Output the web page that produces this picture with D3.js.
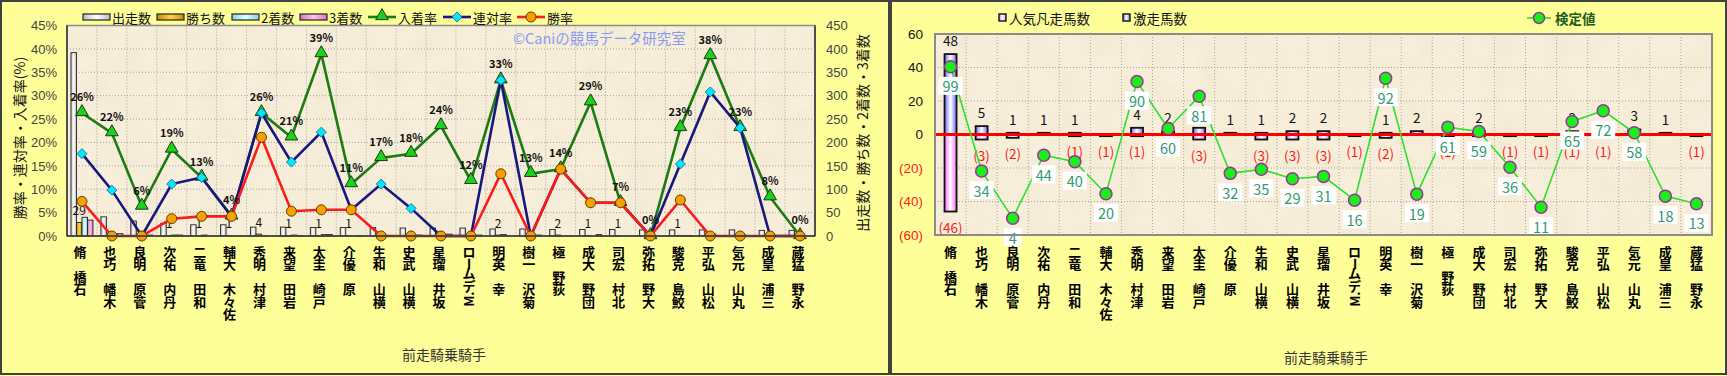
<!DOCTYPE html>
<html>
<head>
<meta charset="utf-8">
<script src="https://cdn.jsdelivr.net/npm/d3@7"></script>
<style>
  body { margin: 0; background: #ffff99; }
  svg { display: block; font-family: "Noto Sans CJK JP", "Noto Sans", sans-serif; }
</style>
</head>
<body>
<div id="root"></div>
<script>
// 騎手
var jockeys = ['石橋　脩', '木幡　巧也', '菅原　明良', '丹内　祐次', '和田　竜二', '佐々木　大輔', '津村　明秀',
  '岩田　望来', '戸崎　圭太', '原　優介', '横山　和生', '横山　武史', '坂井　瑠星', 'M. デムーロ', '幸　英明',
  '菊沢　一樹', '荻野　極', '団野　大成', '北村　宏司', '大野　拓弥', '鮫島　克駿', '松山　弘平', '丸山　元気',
  '三浦　皇成', '永野　猛蔵'];

// 左: 件数
var starts  = [392, 41, 32, 27, 24, 24, 19, 19, 18, 18, 18, 17, 17, 17, 15, 15, 14, 14, 14, 13, 13, 13, 13, 12, 12];
var wins    = [29, 0, 0, 1, 1, 1, 4, 1, 1, 1, 0, 0, 0, 0, 2, 0, 2, 1, 1, 0, 1, 0, 0, 0, 0];
var seconds = [40, 4, 0, 2, 2, 0, 1, 2, 3, 0, 2, 1, 0, 0, 3, 0, 0, 0, 0, 0, 1, 4, 3, 0, 0];
var thirds  = [34, 5, 2, 2, 0, 0, 0, 1, 3, 1, 1, 2, 4, 2, 0, 2, 0, 3, 0, 0, 1, 1, 0, 1, 0];

// 左: 率 (%)
var placeRate = [26.3, 22.0, 6.3, 18.5, 12.5, 4.2, 26.3, 21.1, 38.9, 11.1, 16.7, 17.6, 23.5, 11.8, 33.3,
  13.3, 14.3, 28.6, 7.1, 0, 23.1, 38.5, 23.1, 8.3, 0];
var quinellaRate = [17.6, 9.8, 0, 11.1, 12.5, 4.2, 26.3, 15.8, 22.2, 5.6, 11.1, 5.9, 0, 0, 33.3,
  0, 14.3, 7.1, 7.1, 0, 15.4, 30.8, 23.1, 0, 0];
var winRate = [7.4, 0, 0, 3.7, 4.2, 4.2, 21.1, 5.3, 5.6, 5.6, 0, 0, 0, 0, 13.3,
  0, 14.3, 7.1, 7.1, 0, 7.7, 0, 0, 0, 0];
var placeLabels = ['26%', '22%', '6%', '19%', '13%', '4%', '26%', '21%', '39%', '11%', '17%', '18%', '24%', '12%', '33%',
  '13%', '14%', '29%', '7%', '0%', '23%', '38%', '23%', '8%', '0%'];

// 右: 激走 / 人気凡走 / 検定値
var gekisou = [48, 5, 1, 1, 1, 0, 4, 2, 4, 1, 1, 2, 2, 0, 1, 2, 0, 2, 0, 0, 2, 0, 3, 1, 0];
var bonsou  = [46, 3, 2, 0, 1, 1, 1, 0, 3, 0, 3, 3, 3, 1, 2, 0, 1, 1, 1, 1, 1, 1, 0, 0, 1];
var kenteiLabel = [99, 34, 4, 44, 40, 20, 90, 60, 81, 32, 35, 29, 31, 16, 92, 19, 61, 59, 36, 11, 65, 72, 58, 18, 13];
var kenteiPos = [40.4, -21.8, -50, -12.4, -16.2, -35.4, 31.6, 3.6, 22.8, -23.2, -20.8, -26.4, -25, -39.2, 33.6,
  -35.6, 4.4, 1.8, -19.6, -43.4, 7.8, 14.2, 1.0, -36.8, -41.4];

var leftTicks = d3.range(0, 50, 5);
var countTicks = d3.range(0, 500, 50);
var rightTicks = [60, 40, 20, 0, -20, -40, -60];

var W = 1727, H = 376;
var svg = d3.select('#root').append('svg').attr('width', W).attr('height', H);
var defs = svg.append('defs');

function hGrad(id, edge, mid) {
  var g = defs.append('linearGradient').attr('id', id).attr('x1', 0).attr('x2', 1).attr('y1', 0).attr('y2', 0);
  g.append('stop').attr('offset', '0%').attr('stop-color', edge);
  g.append('stop').attr('offset', '50%').attr('stop-color', mid);
  g.append('stop').attr('offset', '100%').attr('stop-color', edge);
}
hGrad('gStarts', '#bdbdbd', '#ffffff');
hGrad('gWins', '#c88a00', '#ffd24a');
hGrad('gSec', '#86d2e6', '#e6ffff');
hGrad('gThird', '#d874b8', '#ffc6ea');
hGrad('gBlue', '#6f6fff', '#ffffff');
hGrad('gPink', '#ff70ff', '#ffffff');

var tex = defs.append('filter').attr('id', 'paper').attr('x', 0).attr('y', 0).attr('width', 1).attr('height', 1);
tex.append('feTurbulence').attr('type', 'fractalNoise').attr('baseFrequency', 0.035).attr('numOctaves', 3).attr('seed', 4);
tex.append('feColorMatrix').attr('type', 'matrix')
  .attr('values', '0 0 0 0 0.72  0 0 0 0 0.62  0 0 0 0 0.42  0 0 0 0.55 -0.18');

// panels
svg.append('rect').attr('x', 1).attr('y', 1).attr('width', 888).attr('height', 373)
  .attr('fill', '#ffff99').attr('stroke', '#404040').attr('stroke-width', 2);
svg.append('rect').attr('x', 891).attr('y', 1).attr('width', 835).attr('height', 373)
  .attr('fill', '#ffff99').attr('stroke', '#404040').attr('stroke-width', 2);

function plotBg(x0, y0, x1, y1) {
  svg.append('rect').attr('x', x0).attr('y', y0).attr('width', x1 - x0).attr('height', y1 - y0).attr('fill', '#f7efdb');
  svg.append('rect').attr('x', x0).attr('y', y0).attr('width', x1 - x0).attr('height', y1 - y0)
    .attr('filter', 'url(#paper)').attr('opacity', 0.5);
}

// 下から上へ積む縦書きラベル(漢字は正立、英字は回転)
function vLabel(sel, text, x, yTop) {
  var chars = Array.from(text).reverse();
  var y = yTop;
  var t = sel.append('text').attr('text-anchor', 'middle');
  var run = '', runTop = 0;
  function flush() {
    if (!run) return;
    sel.append('text').attr('transform', 'translate(' + x + ',' + runTop + ') rotate(-90)')
      .attr('text-anchor', 'end').attr('dominant-baseline', 'central')
      .text(Array.from(run).reverse().join('').trim());
    run = '';
  }
  chars.forEach(function (c) {
    var cjk = /[\u3000-\u30fb\u3400-\u9fff]/.test(c);
    if (cjk) {
      flush();
      if (c !== '\u3000') {
        t.append('tspan').attr('x', x).attr('y', y + 6.25).attr('dominant-baseline', 'central').text(c);
      }
      y += 12.5;
    } else {
      if (!run) runTop = y;
      run += c;
      y += (c === ' ' || c === '.') ? 4 : 9;
    }
  });
  flush();
}

// ================= 左のグラフ =================
var L = { x0: 67, x1: 815, y0: 25.5, y1: 236 };
plotBg(L.x0, L.y0, L.x1, L.y1);

var xL = d3.scaleBand().domain(d3.range(jockeys.length)).range([L.x0, L.x1]);
var yPct = d3.scaleLinear().domain([0, 45]).range([L.y1, L.y0]);
var yCnt = d3.scaleLinear().domain([0, 450]).range([L.y1, L.y0]);
var keys = ['starts', 'wins', 'seconds', 'thirds'];
var x1 = d3.scaleBand().domain(keys).range([-11, 11]);
var fills = { starts: 'url(#gStarts)', wins: 'url(#gWins)', seconds: 'url(#gSec)', thirds: 'url(#gThird)' };
var series = { starts: starts, wins: wins, seconds: seconds, thirds: thirds };

var gridL = svg.append('g').attr('stroke', '#a8a29a').attr('stroke-dasharray', '1,2').attr('stroke-width', 1);
gridL.selectAll('.h').data(leftTicks.slice(1)).enter().append('line')
  .attr('x1', L.x0).attr('x2', L.x1).attr('y1', function (d) { return yPct(d); }).attr('y2', function (d) { return yPct(d); });
gridL.selectAll('.v').data(d3.range(1, jockeys.length)).enter().append('line')
  .attr('y1', L.y0).attr('y2', L.y1).attr('x1', function (d) { return xL(d); }).attr('x2', function (d) { return xL(d); });

var cx = function (i) { return xL(i) + xL.bandwidth() / 2; };

keys.forEach(function (k) {
  svg.append('g').selectAll('rect').data(series[k]).enter().append('rect')
    .attr('x', function (d, i) { return cx(i) + x1(k); })
    .attr('width', x1.bandwidth())
    .attr('y', function (d) { return yCnt(d); })
    .attr('height', function (d) { return L.y1 - yCnt(d); })
    .attr('fill', fills[k]).attr('stroke', '#222').attr('stroke-width', 0.9);
});

// 勝ち数ラベル
svg.append('g').selectAll('text').data(wins.map(function (d, i) { return { v: d, i: i }; }).filter(function (d) { return d.v > 0; }))
  .enter().append('text')
  .attr('x', function (d) { return cx(d.i) + x1('wins') + x1.bandwidth() / 2; })
  .attr('y', function (d) { return yCnt(d.v) - 13; })
  .attr('text-anchor', 'middle').attr('dominant-baseline', 'central')
  .attr('font-size', 12).attr('fill', '#111').text(function (d) { return d.v; });

function drawLine(vals, color, marker) {
  var line = d3.line().x(function (d, i) { return cx(i); }).y(function (d) { return yPct(d); });
  svg.append('path').datum(vals).attr('d', line).attr('fill', 'none').attr('stroke', color).attr('stroke-width', 2.6);
  var g = svg.append('g');
  vals.forEach(function (v, i) { marker(g, cx(i), yPct(v)); });
}
function tri(g, x, y) {
  g.append('path').attr('d', d3.symbol(d3.symbolTriangle, 70)()).attr('transform', 'translate(' + x + ',' + (y - 1) + ')')
    .attr('fill', '#19d219').attr('stroke', '#1a3a1a').attr('stroke-width', 1);
}
function dia(g, x, y) {
  g.append('path').attr('d', 'M0,-5L5,0L0,5L-5,0Z').attr('transform', 'translate(' + x + ',' + y + ')')
    .attr('fill', '#00e8ff').attr('stroke', '#1c5a7a').attr('stroke-width', 0.8);
}
function circ(g, x, y) {
  g.append('circle').attr('cx', x).attr('cy', y).attr('r', 5)
    .attr('fill', '#f4a000').attr('stroke', '#6a3a00').attr('stroke-width', 1);
}
drawLine(placeRate, '#1b7a12', tri);
drawLine(quinellaRate, '#17177f', dia);
drawLine(winRate, '#ff1a1a', circ);

svg.append('g').selectAll('text').data(placeLabels).enter().append('text')
  .attr('x', function (d, i) { return cx(i); })
  .attr('y', function (d, i) { return yPct(placeRate[i]) - 17; })
  .attr('text-anchor', 'middle').attr('dominant-baseline', 'central')
  .attr('font-size', 11).attr('font-weight', 'bold').attr('fill', '#111').text(function (d) { return d; });

svg.append('rect').attr('x', L.x0).attr('y', L.y0).attr('width', L.x1 - L.x0).attr('height', L.y1 - L.y0)
  .attr('fill', 'none').attr('stroke', '#8a8a8a').attr('stroke-width', 1.5);
svg.append('line').attr('x1', L.x0).attr('x2', L.x0).attr('y1', L.y0).attr('y2', L.y1).attr('stroke', '#333').attr('stroke-width', 1.5);
svg.append('line').attr('x1', L.x0).attr('x2', L.x1).attr('y1', L.y1).attr('y2', L.y1).attr('stroke', '#333').attr('stroke-width', 1.5);
svg.append('line').attr('x1', L.x1).attr('x2', L.x1).attr('y1', L.y0).attr('y2', L.y1).attr('stroke', '#333').attr('stroke-width', 1.5);

svg.append('text').attr('x', 513).attr('y', 37).attr('dominant-baseline', 'central')
  .attr('font-size', 14.5).attr('fill', '#8a9af2').text('©Caniの競馬データ研究室');

var axL = svg.append('g').attr('transform', 'translate(' + L.x0 + ',0)')
  .call(d3.axisLeft(yPct).tickValues(leftTicks).tickFormat(function (d) { return d + '%'; }).tickSize(0).tickPadding(10));
axL.select('.domain').remove();
axL.selectAll('text').attr('font-size', 13).attr('fill', '#444').attr('font-family', null);

var axR = svg.append('g').attr('transform', 'translate(' + L.x1 + ',0)')
  .call(d3.axisRight(yCnt).tickValues(countTicks).tickSize(0).tickPadding(11));
axR.select('.domain').remove();
axR.selectAll('text').attr('font-size', 13).attr('fill', '#444').attr('font-family', null);

svg.append('text').attr('transform', 'translate(19,138) rotate(-90)').attr('text-anchor', 'middle')
  .attr('dominant-baseline', 'central').attr('font-size', 14).attr('fill', '#111').text('勝率・連対率・入着率(%)');
svg.append('text').attr('transform', 'translate(862,133) rotate(-90)').attr('text-anchor', 'middle')
  .attr('dominant-baseline', 'central').attr('font-size', 14).attr('fill', '#111').text('出走数・勝ち数・2着数・3着数');

var labL = svg.append('g').attr('font-size', 13).attr('font-weight', 'bold').attr('fill', '#000');
jockeys.forEach(function (n, i) { vLabel(labL, n, cx(i) - 2, 245); });

svg.append('text').attr('x', 444).attr('y', 354).attr('text-anchor', 'middle').attr('dominant-baseline', 'central')
  .attr('font-size', 14).attr('fill', '#333').text('前走騎乗騎手');

// legend (left)
var legL = svg.append('g').attr('font-size', 13).attr('fill', '#111');
var barLeg = [['出走数', 'url(#gStarts)', 83], ['勝ち数', 'url(#gWins)', 157], ['2着数', 'url(#gSec)', 232], ['3着数', 'url(#gThird)', 300]];
barLeg.forEach(function (b) {
  legL.append('rect').attr('x', b[2]).attr('y', 14).attr('width', 27).attr('height', 6)
    .attr('fill', b[1]).attr('stroke', '#222').attr('stroke-width', 1.2);
  legL.append('text').attr('x', b[2] + 29).attr('y', 17).attr('dominant-baseline', 'central').text(b[0]);
});
var lineLeg = [['入着率', '#1b7a12', tri, 368], ['連対率', '#17177f', dia, 443], ['勝率', '#ff1a1a', circ, 517]];
lineLeg.forEach(function (b) {
  legL.append('line').attr('x1', b[3]).attr('x2', b[3] + 28).attr('y1', 17).attr('y2', 17).attr('stroke', b[1]).attr('stroke-width', 2.6);
  b[2](legL, b[3] + 14, 17);
  legL.append('text').attr('x', b[3] + 30).attr('y', 17).attr('dominant-baseline', 'central').text(b[0]);
});

// ================= 右のグラフ =================
var R = { x0: 935, x1: 1712, y0: 34, y1: 235 };
plotBg(R.x0, R.y0, R.x1, R.y1);
var xR = d3.scaleBand().domain(d3.range(jockeys.length)).range([R.x0, R.x1]);
var yR = d3.scaleLinear().domain([-60, 60]).range([R.y1, R.y0]);
var rx = function (i) { return xR(i) + xR.bandwidth() / 2; };

var gridR = svg.append('g').attr('stroke', '#a8a29a').attr('stroke-dasharray', '1,2').attr('stroke-width', 1);
gridR.selectAll('.h').data(rightTicks.slice(1, -1)).enter().append('line')
  .attr('x1', R.x0).attr('x2', R.x1).attr('y1', function (d) { return yR(d); }).attr('y2', function (d) { return yR(d); });
gridR.selectAll('.v').data(d3.range(1, jockeys.length)).enter().append('line')
  .attr('y1', R.y0).attr('y2', R.y1).attr('x1', function (d) { return xR(d); }).attr('x2', function (d) { return xR(d); });

svg.append('g').selectAll('rect').data(bonsou).enter().append('rect')
  .attr('x', function (d, i) { return rx(i) - 6; }).attr('width', 12)
  .attr('y', yR(0)).attr('height', function (d) { return yR(-d) - yR(0); })
  .attr('fill', 'url(#gPink)').attr('stroke', '#111').attr('stroke-width', 1.8);
svg.append('g').selectAll('rect').data(gekisou).enter().append('rect')
  .attr('x', function (d, i) { return rx(i) - 6; }).attr('width', 12)
  .attr('y', function (d) { return yR(d); }).attr('height', function (d) { return yR(0) - yR(d); })
  .attr('fill', 'url(#gBlue)').attr('stroke', '#111').attr('stroke-width', 1.8);

svg.append('line').attr('x1', R.x0).attr('x2', R.x1).attr('y1', yR(0)).attr('y2', yR(0))
  .attr('stroke', '#ff0000').attr('stroke-width', 3);

function nonZero(arr) {
  return arr.map(function (d, i) { return { v: d, i: i }; }).filter(function (d) { return d.v > 0; });
}
svg.append('g').selectAll('text').data(nonZero(gekisou)).enter().append('text')
  .attr('x', function (d) { return rx(d.i); }).attr('y', function (d) { return yR(d.v) - 14; })
  .attr('text-anchor', 'middle').attr('dominant-baseline', 'central').attr('font-size', 13.5).attr('fill', '#111')
  .text(function (d) { return d.v; });
svg.append('g').selectAll('text').data(nonZero(bonsou)).enter().append('text')
  .attr('x', function (d) { return rx(d.i); }).attr('y', function (d) { return yR(-d.v) + 15; })
  .attr('text-anchor', 'middle').attr('dominant-baseline', 'central').attr('font-size', 13.5).attr('fill', '#ff1a1a')
  .text(function (d) { return '(' + d.v + ')'; });

var kLine = d3.line().x(function (d, i) { return rx(i); }).y(function (d) { return yR(d); });
svg.append('path').datum(kenteiPos).attr('d', kLine).attr('fill', 'none').attr('stroke', '#2ee02e').attr('stroke-width', 1.6);

svg.append('g').selectAll('circle').data(kenteiPos).enter().append('circle')
  .attr('cx', function (d, i) { return rx(i); }).attr('cy', function (d) { return yR(d); }).attr('r', 6)
  .attr('fill', '#19f019').attr('stroke', '#993399').attr('stroke-width', 1.5);

var kl = svg.append('g').selectAll('g').data(kenteiLabel).enter().append('g')
  .attr('transform', function (d, i) { return 'translate(' + rx(i) + ',' + (yR(kenteiPos[i]) + 19) + ')'; });
kl.append('rect').attr('x', function (d) { return d < 10 ? -9 : -12; }).attr('y', -9)
  .attr('width', function (d) { return d < 10 ? 18 : 24; }).attr('height', 18).attr('fill', '#ffffff');
kl.append('text').attr('text-anchor', 'middle').attr('dominant-baseline', 'central')
  .attr('font-size', 14.5).attr('fill', '#2f9a72').text(function (d) { return d; });

svg.append('rect').attr('x', R.x0).attr('y', R.y0).attr('width', R.x1 - R.x0).attr('height', R.y1 - R.y0)
  .attr('fill', 'none').attr('stroke', '#8a8a8a').attr('stroke-width', 2);

var axR2 = svg.append('g').attr('transform', 'translate(' + R.x0 + ',0)')
  .call(d3.axisLeft(yR).tickValues(rightTicks).tickSize(0).tickPadding(12)
    .tickFormat(function (d) { return d < 0 ? '(' + (-d) + ')' : d; }));
axR2.select('.domain').remove();
axR2.selectAll('text').attr('font-size', 13.5).attr('font-family', null)
  .attr('fill', function (d) { return d < 0 ? '#ff1a1a' : '#111'; });

var labR = svg.append('g').attr('font-size', 13).attr('font-weight', 'bold').attr('fill', '#000');
jockeys.forEach(function (n, i) { vLabel(labR, n, rx(i), 245); });

svg.append('text').attr('x', 1326).attr('y', 357).attr('text-anchor', 'middle').attr('dominant-baseline', 'central')
  .attr('font-size', 14).attr('fill', '#333').text('前走騎乗騎手');

// legend (right)
var legR = svg.append('g').attr('font-size', 13.5).attr('fill', '#111');
[['人気凡走馬数', 'url(#gPink)', 999], ['激走馬数', 'url(#gBlue)', 1123]].forEach(function (b) {
  legR.append('rect').attr('x', b[2]).attr('y', 14).attr('width', 7).attr('height', 7)
    .attr('fill', b[1]).attr('stroke', '#111').attr('stroke-width', 1.4);
  legR.append('text').attr('x', b[2] + 10).attr('y', 18).attr('dominant-baseline', 'central').text(b[0]);
});
legR.append('line').attr('x1', 1527).attr('x2', 1551).attr('y1', 18).attr('y2', 18).attr('stroke', '#2ee02e').attr('stroke-width', 1.6);
legR.append('circle').attr('cx', 1539).attr('cy', 18).attr('r', 5.5).attr('fill', '#19f019').attr('stroke', '#993399').attr('stroke-width', 1.5);
legR.append('text').attr('x', 1555).attr('y', 18).attr('dominant-baseline', 'central')
  .attr('font-weight', 'bold').attr('fill', '#1c5e1c').text('検定値');
</script>
</body>
</html>
